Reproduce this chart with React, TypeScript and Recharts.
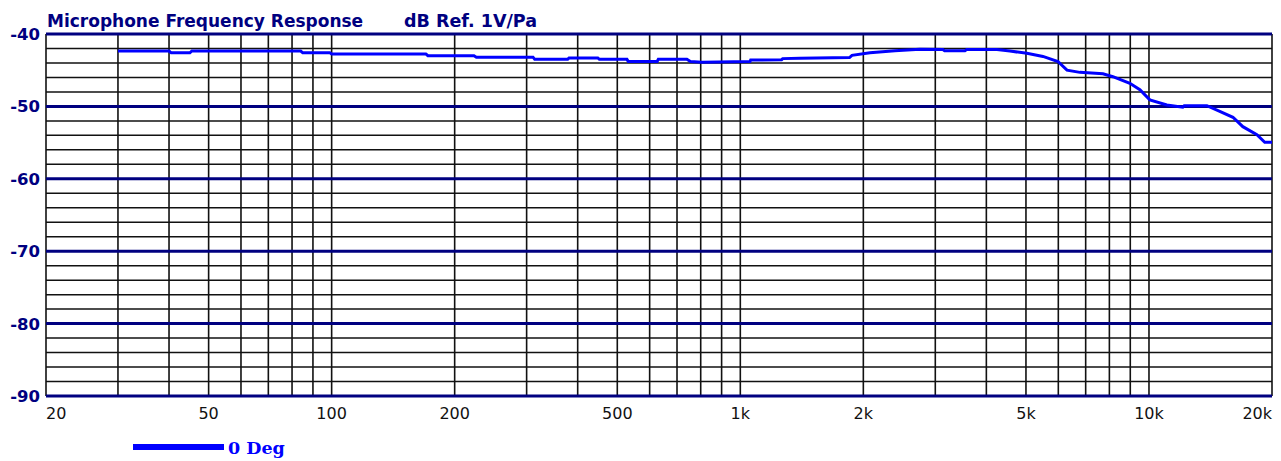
import React from 'react';
import { LineChart, Line, XAxis, YAxis, ReferenceLine } from 'recharts';

// response curve (Hz, dB re 1V/Pa)
const freqHz = [
  30, 40, 40.5, 45, 45.5, 84, 85, 99, 100, 170, 172, 223, 226, 311, 314, 378, 381, 448, 452, 528,
  532, 626, 630, 740, 755, 805, 1056, 1060, 1262, 1270, 1400, 1850, 1876, 2076, 2390, 2750, 3130,
  3160, 3546, 3580, 4246, 4568, 5026, 5502, 5988, 6300, 6776, 7716, 8160, 8980, 9500, 10050, 11060,
  12100, 12200, 13860, 14900, 16050, 16970, 18370, 19200, 20000,
];
const respDb = [
  -42.35, -42.35, -42.6, -42.6, -42.35, -42.35, -42.6, -42.6, -42.75, -42.75, -43.0, -43.0, -43.2,
  -43.2, -43.5, -43.5, -43.3, -43.3, -43.5, -43.5, -43.8, -43.8, -43.5, -43.5, -43.8, -43.9, -43.8,
  -43.6, -43.55, -43.4, -43.35, -43.25, -42.95, -42.6, -42.3, -42.1, -42.15, -42.3, -42.3, -42.15,
  -42.15, -42.35, -42.67, -43.1, -43.8, -45.0, -45.3, -45.5, -45.9, -46.8, -47.7, -49.1, -49.8,
  -50.1, -49.9, -49.9, -50.7, -51.5, -52.8, -53.9, -54.96, -54.96,
];

const xTicks = [20, 50, 100, 200, 500, 1000, 2000, 5000, 10000, 20000];
const xTickLabels = ['20', '50', '100', '200', '500', '1k', '2k', '5k', '10k', '20k'];
const yTicks = [-40, -50, -60, -70, -80, -90];

const xGrid = [
  20, 30, 40, 50, 60, 70, 80, 90, 100, 200, 300, 400, 500, 600, 700, 800, 900, 1000, 2000, 3000,
  4000, 5000, 6000, 7000, 8000, 9000, 10000, 20000,
];
const yMinorGrid = [
  -42, -44, -46, -48, -52, -54, -56, -58, -62, -64, -66, -68, -72, -74, -76, -78, -82, -84, -86, -88,
];

const data = freqHz.map((f, i) => ({ f, db: respDb[i] }));

const NAVY = '#000080';
const BLUE = '#0000ff';

const XTick = (props: any) => {
  const { x, y, payload, index } = props;
  const last = xTicks.length - 1;
  const anchor = index === 0 ? 'start' : index === last ? 'end' : 'middle';
  const i = xTicks.indexOf(payload.value);
  return (
    <text
      x={x}
      y={y + 23}
      textAnchor={anchor}
      fill="#111"
      fontFamily="DejaVu Sans"
      fontSize={16}
    >
      {xTickLabels[i]}
    </text>
  );
};

const YTick = (props: any) => {
  const { x, y, payload } = props;
  return (
    <text
      x={x - 6}
      y={y + 6}
      textAnchor="end"
      fill={NAVY}
      fontFamily="DejaVu Sans"
      fontWeight="bold"
      fontSize={16.5}
    >
      {payload.value}
    </text>
  );
};

export default function App() {
  return (
    <div style={{ position: 'absolute', left: 0, top: 0, width: 1281, height: 461, background: '#fff' }}>
      <LineChart width={1281} height={461} data={data} margin={{ top: 34, right: 9, bottom: 35, left: 0 }}>
        <XAxis
          dataKey="f"
          type="number"
          scale="log"
          domain={[20, 20000]}
          allowDataOverflow
          ticks={xTicks}
          tick={<XTick />}
          tickLine={false}
          axisLine={false}
          tickSize={0}
          tickMargin={0}
          height={30}
          interval={0}
        />
        <YAxis
          type="number"
          domain={[-90, -40]}
          ticks={yTicks}
          tick={<YTick />}
          tickLine={false}
          axisLine={false}
          tickSize={0}
          tickMargin={0}
          width={46}
          interval={0}
        />
        {yMinorGrid.map((v) => (
          <ReferenceLine key={`h${v}`} y={v} stroke="#111" strokeWidth={1.5} />
        ))}
        {xGrid.map((v) => (
          <ReferenceLine key={`v${v}`} x={v} stroke="#111" strokeWidth={1.6} />
        ))}
        {yTicks.map((v) => (
          <ReferenceLine key={`m${v}`} y={v} stroke={NAVY} strokeWidth={3} />
        ))}
        <Line
          type="linear"
          dataKey="db"
          stroke={BLUE}
          strokeWidth={3}
          dot={false}
          isAnimationActive={false}
        />
      </LineChart>
      <svg
        width={1281}
        height={461}
        style={{ position: 'absolute', left: 0, top: 0, pointerEvents: 'none' }}
      >
        <text x={47} y={27} fill={NAVY} fontFamily="DejaVu Sans" fontWeight="bold" fontSize={17}>
          Microphone Frequency Response
        </text>
        <text x={404} y={27} fill={NAVY} fontFamily="DejaVu Sans" fontWeight="bold" fontSize={17.5}>
          dB Ref. 1V/Pa
        </text>
        <line x1={133} y1={447} x2={224} y2={447} stroke={BLUE} strokeWidth={6} />
        <text x={228} y={454} fill={BLUE} fontFamily="DejaVu Serif" fontWeight="bold" fontSize={17.5}>
          0 Deg
        </text>
      </svg>
    </div>
  );
}
